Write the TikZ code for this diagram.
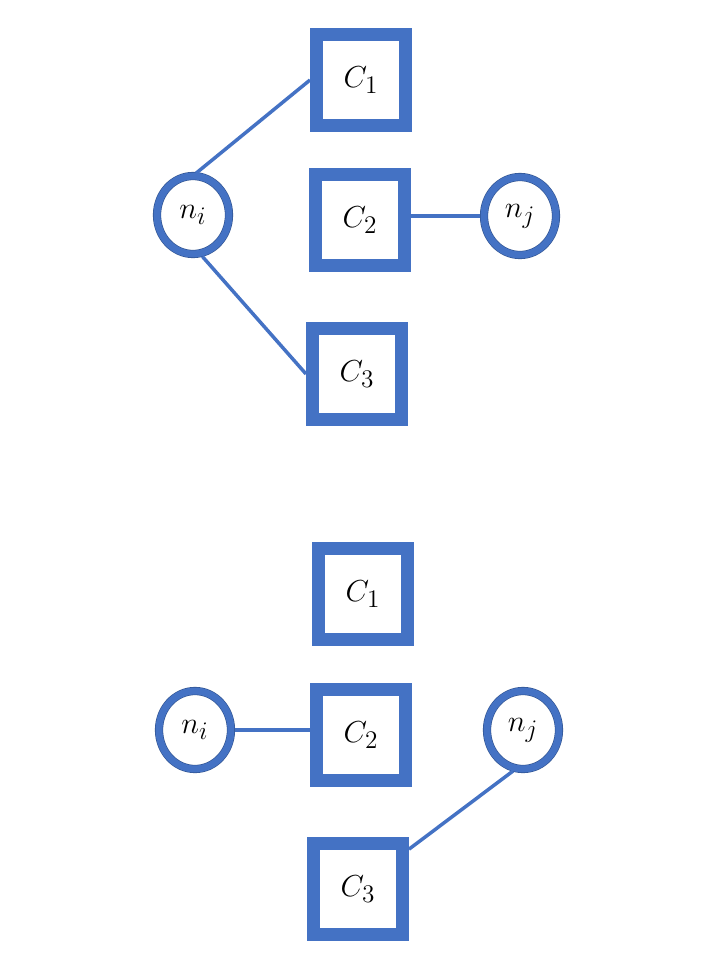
\documentclass[tikz,border=0pt]{standalone}
\usetikzlibrary{shapes.geometric}
\definecolor{blu}{HTML}{4472C4}
\definecolor{blubordo}{HTML}{2F528F}
\tikzset{
  cluster/.style={rectangle, draw=blu, line width=0.26cm, fill=white,
    minimum width=1.78cm, minimum height=1.82cm, inner sep=0pt,
    font=\fontsize{19}{22}\selectfont},
  nodo/.style={ellipse, draw=blubordo, line width=0.012cm, double=blu,
    double distance=0.14cm, fill=white, minimum width=1.44cm,
    minimum height=1.56cm, inner sep=0pt, font=\fontsize{19}{22}\selectfont},
  legame/.style={draw=blu, line width=0.07cm}
}
\begin{document}
\begin{tikzpicture}[x=0.02cm, y=-0.02cm]
    \useasboundingbox (0,0) rectangle (702,960);
    % configurazione sopra
    \node[cluster] (c1a) at (361,80) {$C_1$};
    \node[cluster] (c2a) at (360,220) {$C_2$};
    \node[cluster] (c3a) at (357,374) {$C_3$};
    \node[nodo] (nia) at (193,215) {$n_i$};
    \node[nodo] (nja) at (520,216) {$n_j$};
    \draw[legame, shorten <=0.08cm] (nia.north) -- (c1a.west);
    \draw[legame, shorten <=0.08cm] (nia.-80) -- (c3a.west);
    \draw[legame, shorten >=0.08cm] (c2a.east |- nja.west) -- (nja.west);
    % configurazione sotto
    \node[cluster] (c1b) at (363,594) {$C_1$};
    \node[cluster] (c2b) at (361,735) {$C_2$};
    \node[cluster] (c3b) at (358,889) {$C_3$};
    \node[nodo] (nib) at (195,730) {$n_i$};
    \node[nodo] (njb) at (523,730) {$n_j$};
    \draw[legame, shorten <=0.08cm] (nib.east) -- (nib.east -| c2b.west);
    \draw[legame, shorten <=0.08cm] (njb.-100) -- (c3b.38);
\end{tikzpicture}
\end{document}
